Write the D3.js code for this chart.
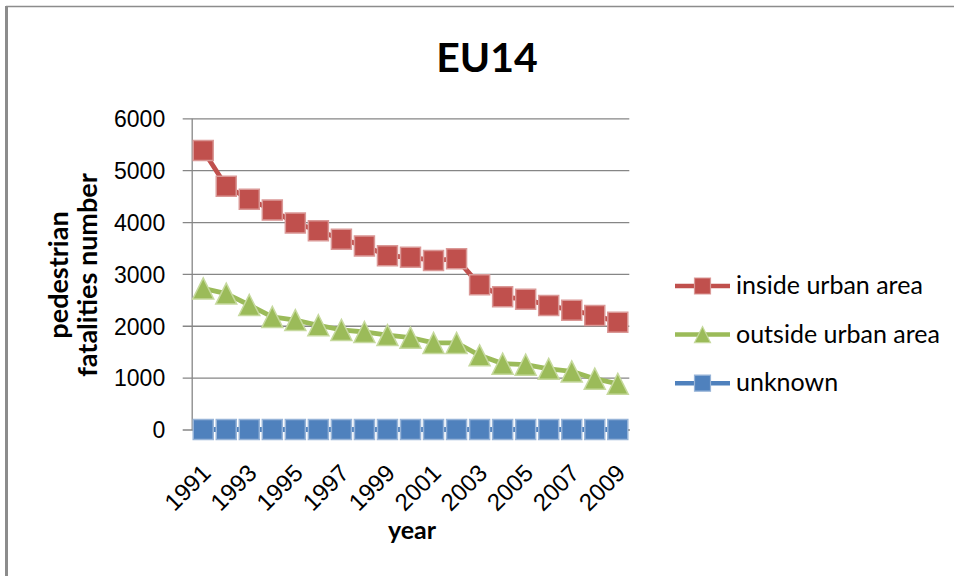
<!DOCTYPE html>
<html>
<head>
<meta charset="utf-8">
<script src="https://cdn.jsdelivr.net/npm/d3@7"></script>
<style>
  body { margin: 0; background: #fff; }
  svg { display: block; font-family: Lato, "Open Sans", sans-serif; }
</style>
</head>
<body>
<div id="chart"></div>
<script>
// chart values
let years = ["1991", "1992", "1993", "1994", "1995", "1996", "1997", "1998", "1999", "2000",
             "2001", "2002", "2003", "2004", "2005", "2006", "2007", "2008", "2009"];
let yearLabels = ["1991", "1993", "1995", "1997", "1999", "2001", "2003", "2005", "2007", "2009"];
let insideUrban = [5380, 4690, 4440, 4230, 3980, 3830, 3670, 3540, 3350, 3320,
                   3260, 3290, 2790, 2560, 2510, 2390, 2300, 2200, 2070];
let outsideUrban = [2720, 2620, 2400, 2170, 2110, 2010, 1920, 1880, 1820, 1770,
                    1670, 1670, 1430, 1270, 1250, 1170, 1120, 980, 880];
let unknown = [0, 0, 0, 0, 0, 0, 0, 0, 0, 0, 0, 0, 0, 0, 0, 0, 0, 0, 0];
let seriesNames = ["inside urban area", "outside urban area", "unknown"];
let yTicks = [0, 1000, 2000, 3000, 4000, 5000, 6000];

// size and plot box
let svgWidth = 954;
let svgHeight = 576;
let plot = { left: 191.7, right: 629.3, top: 118.3, bottom: 429.5 };

let colors = ["#C0504D", "#9BBB59", "#4F81BD"];
let edges = ["#DA9896", "#C6D99E", "#97B4D8"];
let shapes = ["square", "triangle", "square"];

let svg = d3.select("#chart")
  .append("svg")
  .attr("width", svgWidth)
  .attr("height", svgHeight);

// chart frame (only top and left edges show)
svg.append("line")
  .attr("x1", 6).attr("x2", svgWidth).attr("y1", 6.5).attr("y2", 6.5)
  .attr("stroke", "#8c8c8c").attr("stroke-width", 1.5);
svg.append("line")
  .attr("x1", 6.5).attr("x2", 6.5).attr("y1", 6).attr("y2", svgHeight)
  .attr("stroke", "#8c8c8c").attr("stroke-width", 3);

// scales
let x = d3.scaleBand().domain(years).range([plot.left, plot.right]);
let y = d3.scaleLinear().domain([0, 6000]).range([plot.bottom, plot.top]);

// gridlines + y labels: axis sits on the right edge, ticks reach back past the left edge
let gridAxis = d3.axisLeft(y)
  .tickValues(yTicks)
  .tickFormat(d3.format("d"))
  .tickSize(plot.right - plot.left + 9)
  .tickPadding(17.5);
let gridG = svg.append("g")
  .attr("transform", `translate(${plot.right}, 0)`)
  .call(gridAxis);
gridG.select(".domain").remove();
gridG.selectAll("line").attr("stroke", "#868686").attr("stroke-width", 1.3);
gridG.selectAll("text")
  .attr("fill", "#000")
  .style("font-size", "23px")
  .attr("dy", "0.36em");

// y axis line
svg.append("g")
  .attr("transform", `translate(${plot.left}, 0)`)
  .call(d3.axisLeft(y).tickValues([]).tickSizeOuter(0))
  .select(".domain").attr("stroke", "#868686").attr("stroke-width", 1.3);

// x axis
let xAxis = d3.axisBottom(x).tickValues(yearLabels).tickSize(0).tickSizeOuter(0);
let xG = svg.append("g")
  .attr("transform", `translate(0, ${plot.bottom})`)
  .call(xAxis);
xG.select(".domain").attr("stroke", "#868686").attr("stroke-width", 1.3);
xG.selectAll("text")
  .attr("fill", "#000")
  .style("font-size", "24px")
  .attr("text-anchor", "end")
  .attr("y", 0)
  .attr("dy", null)
  .attr("transform", "translate(9,45) rotate(-45)");

// marker shapes
function markerPath(shape, s) {
  let h = s / 2;
  if (shape === "triangle") return `M0,${-h}L${h},${h}L${-h},${h}Z`;
  return `M${-h},${-h}H${h}V${h}H${-h}Z`;
}

// series
let seriesValues = [insideUrban, outsideUrban, unknown];
let markerSizes = [20, 21, 20];
let line = d3.line()
  .x((d, i) => x(years[i]) + x.bandwidth() / 2)
  .y(d => y(d));

seriesValues.forEach(function(vals, k) {
  let g = svg.append("g");
  g.append("path")
    .datum(vals)
    .attr("d", line)
    .attr("fill", "none")
    .attr("stroke", colors[k])
    .attr("stroke-width", 4.8)
    .attr("stroke-linejoin", "round");
  g.selectAll("path.mk")
    .data(vals)
    .enter()
    .append("path")
    .attr("class", "mk")
    .attr("d", markerPath(shapes[k], markerSizes[k]))
    .attr("transform", (d, i) => `translate(${x(years[i]) + x.bandwidth() / 2}, ${y(d)})`)
    .attr("fill", colors[k])
    .attr("stroke", edges[k])
    .attr("stroke-width", 1.5);
});

// title
svg.append("text")
  .attr("x", 487)
  .attr("y", 72)
  .attr("text-anchor", "middle")
  .style("font-size", "41px")
  .style("font-weight", "bold")
  .text("EU14");

// y axis title (two lines)
let yTitle = svg.append("text")
  .attr("transform", "rotate(-90)")
  .attr("text-anchor", "middle")
  .style("font-size", "27px")
  .style("font-weight", "bold");
yTitle.append("tspan").attr("x", -275).attr("y", 68).text("pedestrian");
yTitle.append("tspan").attr("x", -275).attr("y", 97).text("fatalities number");

// x axis title
svg.append("text")
  .attr("x", 412)
  .attr("y", 539)
  .attr("text-anchor", "middle")
  .style("font-size", "25px")
  .style("font-weight", "bold")
  .text("year");

// legend
let legend = svg.append("g").attr("transform", "translate(675, 286)");
seriesNames.forEach(function(name, k) {
  let row = legend.append("g").attr("transform", `translate(0, ${k * 48.6})`);
  row.append("line")
    .attr("x1", 0).attr("x2", 55)
    .attr("stroke", colors[k]).attr("stroke-width", 4.5);
  row.append("path")
    .attr("d", markerPath(shapes[k], 16))
    .attr("transform", "translate(27.5, 0)")
    .attr("fill", colors[k])
    .attr("stroke", edges[k])
    .attr("stroke-width", 1.2);
  row.append("text")
    .attr("x", 61)
    .attr("y", 8)
    .style("font-size", "25px")
    .text(name);
});
</script>
</body>
</html>
